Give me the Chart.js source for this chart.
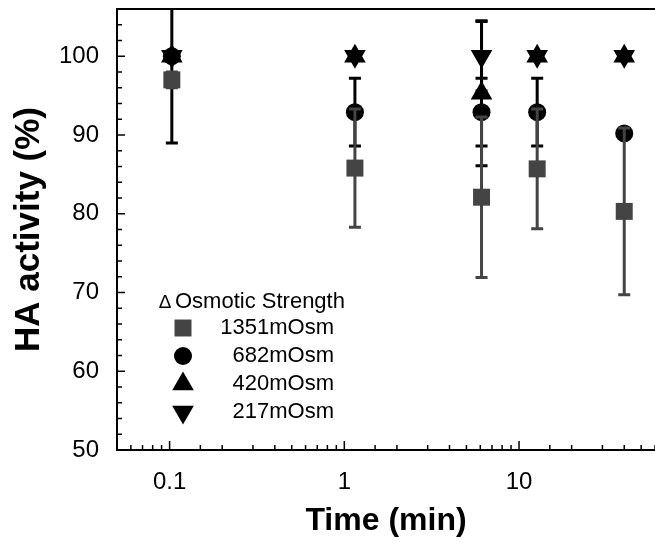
<!DOCTYPE html>
<html>
<head>
<meta charset="utf-8">
<script src="https://cdn.jsdelivr.net/npm/chart.js@4.4.0/dist/chart.umd.min.js"></script>
<style>
  html, body { margin: 0; padding: 0; background: #fff; }
</style>
</head>
<body>
<canvas id="ha_chart" width="655" height="542"></canvas>
<script>
// time points (min) as placed on the log axis
const time_min = [0.103, 1.15, 6.1, 12.7, 40];

// HA activity (%) and error for each osmotic strength
const ha_1351 = [97, 85.8, 82.1, 85.7, 80.3];
const err_1351 = [1, 7.5, 10.2, 7.6, 10.6];
const ha_682 = [100, 92.9, 92.9, 92.9, 90.2];
const err_682 = [11, 4.3, 4.3, 4.3, 0];
const ha_420 = [100, 100, 95.3, 100, 100];
const err_420 = [0, 0, 9.2, 0, 0];
const ha_217 = [100, 100, 100, 100, 100];
const err_217 = [0, 0, 4.4, 0, 0];

const series_names = ['1351mOsm', '682mOsm', '420mOsm', '217mOsm'];
const y_labels = [50, 60, 70, 80, 90, 100];
const x_labels = [0.1, 1, 10];

const FONT = "'Liberation Sans', Arial, sans-serif";

function toPoints(values){
	return values.map((v, i) => ({ x: time_min[i], y: v }));
}

// error bars go under each dataset's own markers
const errorBars = {
	id: 'errorBars',
	beforeDatasetDraw(chart, args){
		const ds = chart.data.datasets[args.index];
		if (!ds.errors) return;
		const { ctx, chartArea, scales } = chart;
		ctx.save();
		ctx.beginPath();
		ctx.rect(chartArea.left, chartArea.top, chartArea.right - chartArea.left, chartArea.bottom - chartArea.top);
		ctx.clip();
		ctx.strokeStyle = ds.errColor;
		ctx.lineWidth = 3;
		ds.data.forEach((p, i) => {
			const e = ds.errors[i];
			if (!e) return;
			const x = scales.x.getPixelForValue(p.x);
			const top = scales.y.getPixelForValue(p.y + e);
			const bot = scales.y.getPixelForValue(p.y - e);
			ctx.beginPath();
			ctx.moveTo(x, top); ctx.lineTo(x, bot);
			ctx.moveTo(x - 6, top); ctx.lineTo(x + 6, top);
			ctx.moveTo(x - 6, bot); ctx.lineTo(x + 6, bot);
			ctx.stroke();
		});
		ctx.restore();
	}
};

// frame, inward ticks and the legend inside the plot
const frameAndLegend = {
	id: 'frameAndLegend',
	afterDraw(chart){
		const { ctx, chartArea: a, scales } = chart;
		ctx.save();
		ctx.strokeStyle = '#000';
		ctx.lineWidth = 2;
		ctx.beginPath();
		ctx.moveTo(a.right + 5, a.top); ctx.lineTo(a.left, a.top);
		ctx.lineTo(a.left, a.bottom); ctx.lineTo(a.right + 5, a.bottom);
		ctx.stroke();

		ctx.lineWidth = 1.5;
		scales.y.ticks.forEach(t => {
			const y = scales.y.getPixelForValue(t.value);
			const len = t.value % 10 === 0 ? 8 : 5;
			ctx.beginPath(); ctx.moveTo(a.left, y); ctx.lineTo(a.left + len, y); ctx.stroke();
		});
		scales.x.ticks.forEach(t => {
			const x = scales.x.getPixelForValue(t.value);
			const lg = Math.log10(t.value);
			const len = Math.abs(lg - Math.round(lg)) < 1e-6 ? 9 : 5;
			ctx.beginPath(); ctx.moveTo(x, a.bottom); ctx.lineTo(x, a.bottom - len); ctx.stroke();
		});

		// legend
		ctx.fillStyle = '#000';
		ctx.textBaseline = 'middle';
		ctx.font = '19px ' + FONT;
		ctx.textAlign = 'center';
		ctx.fillText('\u2206', 165, 303);
		ctx.font = '22px ' + FONT;
		ctx.textAlign = 'left';
		ctx.fillText('Osmotic Strength', 175, 302);

		const rowY = [328, 356, 384, 412];
		chart.data.datasets.forEach((ds, i) => {
			ctx.fillStyle = ds.backgroundColor;
			Chart.helpers.drawPoint(ctx, {
				pointStyle: ds.pointStyle,
				rotation: ds.pointRotation || 0,
				radius: ds.pointRadius,
				borderWidth: 0
			}, 183, rowY[i]);
			ctx.fillStyle = '#000';
			ctx.textAlign = 'right';
			ctx.fillText(ds.label, 334, rowY[i]);
		});
		ctx.restore();
	}
};

const ctx = document.getElementById('ha_chart').getContext('2d');

new Chart(ctx, {
	type: 'scatter',
	data: {
		datasets: [{
			label: series_names[0],
			data: toPoints(ha_1351),
			errors: err_1351,
			errColor: '#444',
			backgroundColor: '#444',
			pointStyle: 'rect',
			pointRadius: 12,
			pointBorderWidth: 0,
			order: 0
		},{
			label: series_names[1],
			data: toPoints(ha_682),
			errors: err_682,
			errColor: '#000',
			backgroundColor: '#000',
			pointStyle: 'circle',
			pointRadius: 9,
			pointBorderWidth: 0,
			order: 3
		},{
			label: series_names[2],
			data: toPoints(ha_420),
			errors: err_420,
			errColor: '#000',
			backgroundColor: '#000',
			pointStyle: 'triangle',
			pointRadius: 12.5,
			pointBorderWidth: 0,
			order: 2
		},{
			label: series_names[3],
			data: toPoints(ha_217),
			errors: err_217,
			errColor: '#000',
			backgroundColor: '#000',
			pointStyle: 'triangle',
			pointRotation: 180,
			pointRadius: 12.5,
			pointBorderWidth: 0,
			order: 1
		}]
	},
	options: {
		responsive: false,
		animation: false,
		layout: { autoPadding: false, padding: { top: 9, right: 0, left: 0, bottom: 0 } },
		plugins: { legend: { display: false }, tooltip: { enabled: false } },
		scales: {
			x: {
				type: 'logarithmic',
				min: 0.05,
				max: 60,
				grid: { display: false },
				border: { display: false },
				ticks: {
					autoSkip: false,
					maxRotation: 0,
					padding: 10,
					color: '#000',
					font: { family: FONT, size: 24 },
					callback: v => {
						const n = Number(Number(v).toPrecision(6));
						return x_labels.includes(n) ? String(n) : '';
					}
				},
				title: {
					display: true,
					text: 'Time (min)',
					color: '#000',
					font: { family: FONT, size: 32, weight: 'bold' },
					padding: { top: 0, bottom: 2 }
				},
				afterFit: s => { s.height = 92; s.paddingLeft = 0; s.paddingRight = 0; }
			},
			y: {
				min: 50,
				max: 106,
				grid: { display: false },
				border: { display: false },
				ticks: {
					stepSize: 2,
					autoSkip: false,
					padding: 10,
					color: '#000',
					font: { family: FONT, size: 24 },
					callback: v => y_labels.includes(v) ? String(v) : ''
				},
				title: {
					display: true,
					text: 'HA activity (%)',
					color: '#000',
					font: { family: FONT, size: 35, weight: 'bold' },
					padding: { top: 8, bottom: 0 }
				},
				afterFit: s => { s.width = 117; s.paddingTop = 0; s.paddingBottom = 0; }
			}
		}
	},
	plugins: [errorBars, frameAndLegend]
});
</script>
</body>
</html>
